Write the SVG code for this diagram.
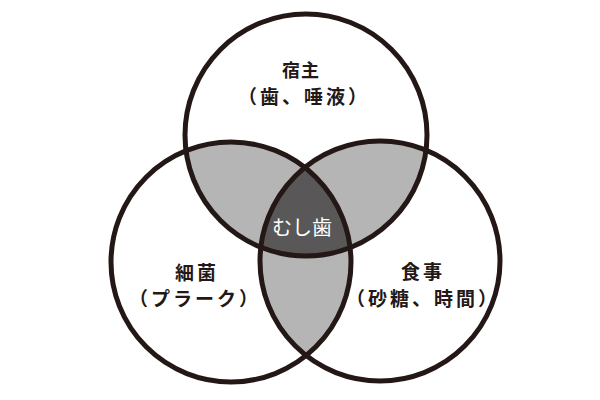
<svg xmlns="http://www.w3.org/2000/svg" width="600" height="400" viewBox="0 0 600 400">
  <defs>
    <style>
      .ring { fill: none; stroke: #231815; stroke-width: 5; }
      .lbl { font-family: "Noto Sans CJK JP", "Noto Sans", sans-serif; font-weight: bold; fill: #231815; text-anchor: middle; }
      .sub { letter-spacing: 3px; }
      .pair { fill: #b5b5b5; }
      .triple { fill: #595757; }
      .core { font-family: "Noto Sans CJK JP", "Noto Sans", sans-serif; font-size: 20px; fill: #ffffff; text-anchor: middle; }
    </style>
    <clipPath id="cT"><circle cx="306" cy="135" r="121"/></clipPath>
    <clipPath id="cL"><circle cx="231" cy="262" r="120"/></clipPath>
    <clipPath id="cR"><circle cx="380" cy="261" r="120"/></clipPath>
  </defs>
  <rect width="600" height="400" fill="#ffffff"/>
  <g id="overlaps">
    <g clip-path="url(#cT)"><circle class="pair" cx="231" cy="262" r="120"/></g>
    <g clip-path="url(#cT)"><circle class="pair" cx="380" cy="261" r="120"/></g>
    <g clip-path="url(#cL)"><circle class="pair" cx="380" cy="261" r="120"/></g>
    <g clip-path="url(#cT)"><g clip-path="url(#cL)"><circle class="triple" cx="380" cy="261" r="120"/></g></g>
  </g>
  <g id="host">
    <circle class="ring" cx="306" cy="135" r="121"/>
    <text class="lbl" x="301" y="77" font-size="18" letter-spacing="1">宿主</text>
    <text class="lbl sub" x="304" y="104" font-size="19">（歯、唾液）</text>
  </g>
  <g id="bacteria">
    <circle class="ring" cx="231" cy="262" r="120"/>
    <text class="lbl" x="197" y="280" font-size="19" letter-spacing="3">細菌</text>
    <text class="lbl sub" x="195" y="306" font-size="19">（プラーク）</text>
  </g>
  <g id="diet">
    <circle class="ring" cx="380" cy="261" r="120"/>
    <text class="lbl" x="423" y="279" font-size="19" letter-spacing="3">食事</text>
    <text class="lbl sub" x="423" y="306" font-size="19">（砂糖、時間）</text>
  </g>
  <g id="caries">
    <text class="core" x="302" y="235">むし歯</text>
  </g>
</svg>
